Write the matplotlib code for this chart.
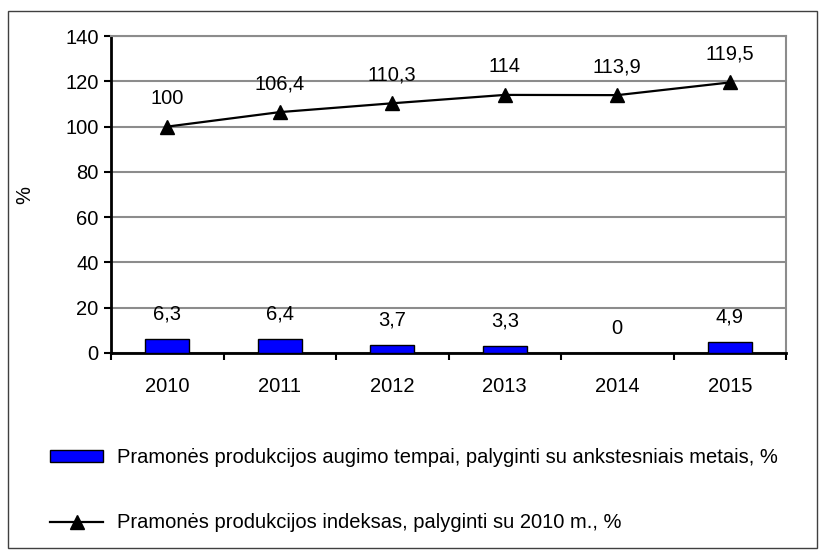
import matplotlib
matplotlib.use("Agg")
import matplotlib.pyplot as plt
from matplotlib.patches import Patch, Rectangle
from matplotlib.lines import Line2D

# Duomenys
metai = ["2010", "2011", "2012", "2013", "2014", "2015"]
augimas = [6.3, 6.4, 3.7, 3.3, 0, 4.9]
augimas_txt = ["6,3", "6,4", "3,7", "3,3", "0", "4,9"]
indeksas = [100, 106.4, 110.3, 114, 113.9, 119.5]
indeksas_txt = ["100", "106,4", "110,3", "114", "113,9", "119,5"]
y_ticks = [0, 20, 40, 60, 80, 100, 120, 140]

plt.rcParams["font.family"] = ["Liberation Sans", "DejaVu Sans"]
fs = 14.5

fig = plt.figure(figsize=(8.31, 5.58), dpi=100)
ax = fig.add_axes([0.1336, 0.3674, 0.8123, 0.568])

x = list(range(len(metai)))
ax.bar(x, augimas, width=0.39, color="#0000ff", edgecolor="black", linewidth=1, zorder=3)
ax.plot(x, indeksas, color="black", linewidth=1.6, marker="^", markersize=10, zorder=4)

for xi, v, t in zip(x, augimas, augimas_txt):
    ax.text(xi, v + 11, t, ha="center", va="center", fontsize=fs)
for xi, v, t in zip(x, indeksas, indeksas_txt):
    ax.text(xi, v + 12.5, t, ha="center", va="center", fontsize=fs)

ax.set_xlim(-0.5, len(metai) - 0.5)
ax.set_ylim(0, 140)
ax.set_yticks(y_ticks)
ax.set_yticklabels([str(v) for v in y_ticks], fontsize=fs)
ax.set_xticks(x)
ax.set_xticklabels(metai, fontsize=fs)
ax.tick_params(axis="x", length=0, pad=17)
ax.set_xticks([i + 0.5 for i in range(-1, len(metai))], minor=True)
ax.tick_params(axis="x", which="minor", length=5, width=1.5, direction="out")
ax.tick_params(axis="y", length=5, width=1.5, direction="out", pad=4)
ax.grid(axis="y", color="#8c8c8c", linewidth=1.5, zorder=0)
ax.set_axisbelow(True)

for s in ["top", "right"]:
    ax.spines[s].set_color("#8c8c8c")
    ax.spines[s].set_linewidth(1.5)
for s in ["left", "bottom"]:
    ax.spines[s].set_color("black")
    ax.spines[s].set_linewidth(2)

ax.set_ylabel("%", fontsize=fs)
ax.yaxis.set_label_coords(-0.113, 0.5)

handles = [
    Patch(facecolor="#0000ff", edgecolor="black", linewidth=1),
    Line2D([], [], color="black", linewidth=1.6, marker="^", markersize=10),
]
labels = [
    "Pramonės produkcijos augimo tempai, palyginti su ankstesniais metais, %",
    "Pramonės produkcijos indeksas, palyginti su 2010 m., %",
]
fig.legend(handles, labels, loc="upper left", bbox_to_anchor=(0.06, 0.197),
           frameon=False, fontsize=fs, handlelength=2.65, handleheight=0.6,
           handletextpad=0.7, labelspacing=2.3, borderaxespad=0, borderpad=0)

# rėmelis aplink visą diagramą
fig.patches.append(Rectangle((0.0096, 0.018), 0.974, 0.962, transform=fig.transFigure,
                             fill=False, edgecolor="#404040", linewidth=1))

fig.savefig("out.png", dpi=100)
